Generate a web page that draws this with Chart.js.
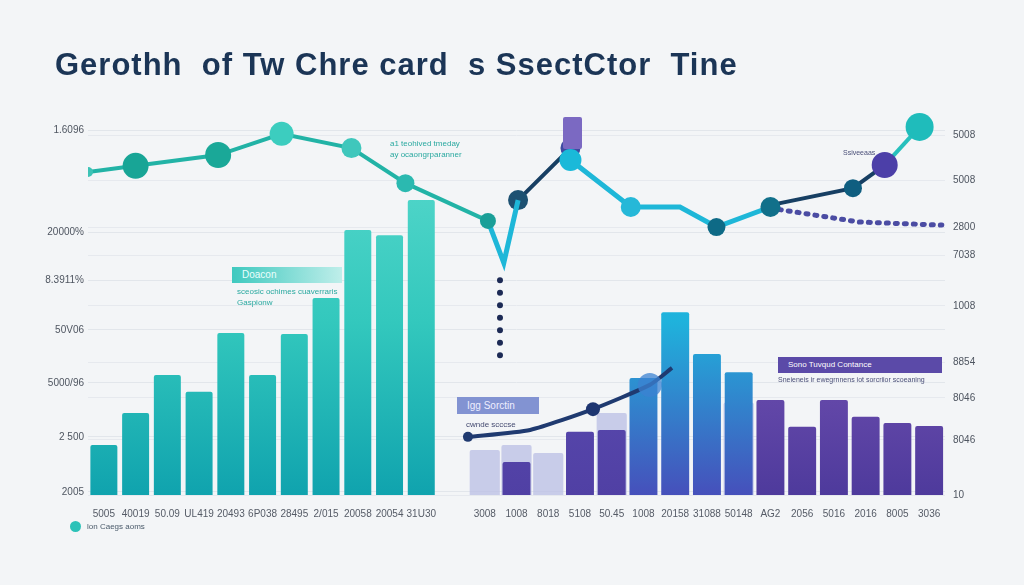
<!DOCTYPE html>
<html>
<head>
<meta charset="utf-8">
<script src="https://cdn.jsdelivr.net/npm/chart.js@4"></script>
<style>
  body { margin: 0; background: #f3f5f7; font-family: "Liberation Sans", Arial, sans-serif; }
  #wrap { position: relative; width: 1024px; height: 585px; overflow: hidden; }
  #title { position: absolute; left: 55px; top: 47px; font-size: 31px; font-weight: bold; color: #1b3556; letter-spacing: 1px; }
  .note { position: absolute; font-size: 8px; white-space: nowrap; }
  .box { position: absolute; font-size: 10px; white-space: nowrap; color: #fff; padding-left: 10px; box-sizing: border-box; }
</style>
</head>
<body>
<div id="wrap">
  <canvas id="chart" width="1024" height="585"></canvas>
  <div id="title">Gerothh&nbsp; of Tw Chre card&nbsp; s SsectCtor&nbsp; Tine</div>

  <div class="box" style="left:232px;top:267px;width:110px;height:16px;line-height:16px;background:linear-gradient(90deg,#3fc9bf,#bfeeea);color:#eafffd;">Doacon</div>
  <div class="note" style="left:237px;top:287px;color:#2aa9a0;">sceosic ochimes cuaverraris</div>
  <div class="note" style="left:237px;top:298px;color:#2aa9a0;">Gaspionw</div>
  <div class="note" style="left:390px;top:139px;color:#2aa9a0;">a1 teohived tmeday</div>
  <div class="note" style="left:390px;top:150px;color:#2aa9a0;">ay ocaongrparanner</div>

  <div class="box" style="left:457px;top:397px;width:82px;height:17px;line-height:17px;background:#8293d2;color:#eef;">Igg Sorctin</div>
  <div class="note" style="left:466px;top:420px;color:#444a70;">cwnde scccse</div>

  <div class="box" style="left:778px;top:357px;width:164px;height:16px;line-height:16px;background:#5b4aa8;font-size:8px;">Sono Tuvqud Contance</div>
  <div class="note" style="left:778px;top:376px;color:#4a4f78;font-size:7px;">Sneieneis ir ewegrnnens iot sorcriior scoeaning</div>
  <div class="note" style="left:843px;top:149px;color:#4a4f78;font-size:7px;">Ssiveeaas</div>

  <div class="box" style="left:563px;top:117px;width:19px;height:32px;background:#7b69c2;border-radius:2px;padding:0;"></div>

  <div style="position:absolute;left:70px;top:521px;width:11px;height:11px;border-radius:50%;background:#2cc2b8;"></div>
  <div class="note" style="left:87px;top:522px;color:#4a5a6a;">lon Caegs aoms</div>
</div>

<script>
const xLabels = [
  "5005", "40019", "50.09", "UL419", "20493", "6P038", "28495", "2/015", "20058", "20054", "31U30",
  "",
  "3008", "1008", "8018", "5108", "50.45", "1008", "20158", "31088", "50148", "AG2", "2056", "5016", "2016", "8005", "3036"
];

const leftTickValues = [0.8, 15.1, 29.1, 42.9, 55.8, 68.3, 94.8];
const leftTickLabels = ["2005", "2 500", "5000/96", "50V06", "8.3911%", "20000%", "1.6096"];
const rightTickValues = [0, 14.3, 25.2, 34.5, 49.1, 62.3, 69.6, 81.8, 93.5];
const rightTickLabels = ["10", "8046", "8046", "8854", "1008", "7038", "2800", "5008", "5008"];

const tealBars = [13, 21.3, 31.2, 26.8, 42.1, 31.2, 41.8, 51.2, 68.8, 67.5, 76.6,
  null, null, null, null, null, null, null, null, null, null, null, null, null, null, null, null];
const shadowBars = [null, null, null, null, null, null, null, null, null, null, null,
  null, 11.7, 13.0, 10.9, null, 21.3, null, null, null, 24.0, null, null, null, null, null, null];
const mainBars = [null, null, null, null, null, null, null, null, null, null, null,
  null, null, 8.6, null, 16.4, 16.9, 30.4, 47.5, 36.6, 31.9, 24.7, 17.7, 24.7, 20.3, 18.7, 17.9];

const tealLineX = [-0.5, 1.0, 3.6, 5.6, 7.8, 9.5, 12.1];
const tealLineY = [83.9, 85.5, 88.3, 93.8, 90.1, 81.0, 71.2];
const cyanLineX = [12.1, 12.6, 13.05, null, 14.7, 16.6, 18.15, 19.3, 21.0];
const cyanLineY = [71.2, 60.3, 76.6, null, 87.0, 74.8, 74.8, 69.6, 74.8];
const navyLineX = [13.05, 14.7, null, 21.0, 23.6, 24.6];
const navyLineY = [76.6, 90.1, null, 75.3, 79.7, 85.7];
const tailLineX = [24.6, 25.7];
const tailLineY = [85.7, 95.6];
const dotLineX = [21.0, 23.8, 26.4];
const dotLineY = [74.5, 70.9, 70.1];
const dropLineX = [12.48, 12.48];
const dropLineY = [55.8, 35.1];
const lowLineX = [11.47, 13.43, 15.41, 17.2, 17.9];
const lowLineY = [15.1, 16.9, 22.3, 28.6, 33.0];

function pts(xs, ys) {
  return xs.map((x, i) => ({ x: x === null ? NaN : x, y: ys[i] }));
}

function grad(chart, top, mid, bottom) {
  const area = chart.chartArea;
  if (!area) return bottom;
  const g = chart.ctx.createLinearGradient(0, area.top, 0, area.bottom);
  g.addColorStop(0, top);
  g.addColorStop(0.55, mid);
  g.addColorStop(1, bottom);
  return g;
}

function mainColor(ctx) {
  const i = ctx.dataIndex;
  const chart = ctx.chart;
  if (i >= 17 && i <= 20) return grad(chart, "#0fc4e2", "#1fb2dc", "#4650bb");
  if (i >= 21) return grad(chart, "#8a5fc0", "#7352b2", "#4e3a9c");
  return grad(chart, "#6a55b8", "#5d4cb2", "#5040a4");
}

new Chart(document.getElementById("chart"), {
  data: {
    labels: xLabels,
    datasets: [
      {
        type: "line", xAxisID: "x2", yAxisID: "y", order: 0,
        data: pts(tealLineX, tealLineY),
        borderColor: "#22b3a6", borderWidth: 4, tension: 0,
        pointRadius: [5, 13, 13, 12, 10, 9, 8],
        pointBackgroundColor: ["#3cc3b6", "#18a596", "#1aa898", "#3ccdbf", "#3fc7bc", "#2bb9b0", "#1a9f98"],
        pointBorderWidth: 0
      },
      {
        type: "line", xAxisID: "x2", yAxisID: "y", order: 0,
        data: pts(cyanLineX, cyanLineY),
        borderColor: "#1eb7d8", borderWidth: 5, tension: 0, spanGaps: false,
        pointRadius: [0, 0, 0, 0, 11, 10, 0, 9, 10],
        pointBackgroundColor: ["#1eb7d8", "#1eb7d8", "#1eb7d8", "#1eb7d8", "#1ab9d9", "#26b8d8", "#1eb7d8", "#0e6a86", "#11708a"],
        pointBorderWidth: 0
      },
      {
        type: "line", xAxisID: "x2", yAxisID: "y", order: 0,
        data: pts(navyLineX, navyLineY),
        borderColor: "#173f63", borderWidth: 4, tension: 0, spanGaps: false,
        pointRadius: [10, 10, 0, 0, 9, 13],
        pointBackgroundColor: ["#1d5172", "#3e4aa2", "#173f63", "#173f63", "#0f5e80", "#4c3fa8"],
        pointBorderWidth: 0
      },
      {
        type: "line", xAxisID: "x2", yAxisID: "y", order: 1,
        data: pts(tailLineX, tailLineY),
        borderColor: "#27c0bd", borderWidth: 4,
        pointRadius: [0, 14], pointBackgroundColor: "#1fbcbb", pointBorderWidth: 0
      },
      {
        type: "line", xAxisID: "x2", yAxisID: "y", order: 1,
        data: pts(dotLineX, dotLineY),
        borderColor: "#4b4ca3", borderWidth: 5, borderDash: [2, 7], borderCapStyle: "round",
        pointRadius: 0
      },
      {
        type: "line", xAxisID: "x2", yAxisID: "y", order: 0,
        data: pts(dropLineX, dropLineY),
        borderColor: "#1c2a55", borderWidth: 6, borderDash: [0, 12.5], borderCapStyle: "round",
        pointRadius: 0
      },
      {
        type: "line", xAxisID: "x2", yAxisID: "y", order: 0,
        data: pts(lowLineX, lowLineY),
        borderColor: "#1f3a70", borderWidth: 4, tension: 0.2,
        pointRadius: [5, 0, 7, 12, 0],
        pointBackgroundColor: ["#1f3a70", "#1f3a70", "#1d3570", "rgba(60,130,210,0.75)", "#2f6cc0"],
        pointBorderWidth: 0
      },
      {
        type: "bar", xAxisID: "x", yAxisID: "y", order: 3, grouped: false,
        data: shadowBars,
        backgroundColor: "rgba(186,190,228,0.75)",
        barPercentage: 0.95, categoryPercentage: 1, borderRadius: 2
      },
      {
        type: "bar", xAxisID: "x", yAxisID: "y", order: 2, grouped: false,
        data: tealBars,
        backgroundColor: (ctx) => grad(ctx.chart, "#5fdccf", "#33c8bd", "#10a3ae"),
        barPercentage: 0.85, categoryPercentage: 1, borderRadius: 2
      },
      {
        type: "bar", xAxisID: "x", yAxisID: "y", order: 2, grouped: false,
        data: mainBars,
        backgroundColor: mainColor,
        barPercentage: 0.88, categoryPercentage: 1, borderRadius: 2
      }
    ]
  },
  options: {
    responsive: false,
    animation: false,
    layout: { padding: { top: 110, bottom: 60, left: 0, right: 0 } },
    plugins: {
      legend: { display: false },
      tooltip: { enabled: false }
    },
    scales: {
      x: {
        type: "category", offset: true,
        grid: { display: false },
        border: { display: false },
        ticks: { color: "#555b66", font: { size: 10 }, maxRotation: 0, autoSkip: false, padding: 5 },
        afterFit: (axis) => { axis.height = 30; }
      },
      x2: {
        type: "linear", display: false, min: -0.5, max: 26.5
      },
      y: {
        position: "left", min: 0, max: 100,
        border: { display: false },
        grid: { color: "#e2e6eb", drawTicks: false },
        afterBuildTicks: (axis) => { axis.ticks = leftTickValues.map(v => ({ value: v })); },
        ticks: {
          color: "#4e5560", font: { size: 10 }, padding: 4,
          callback: (value, index) => leftTickLabels[index]
        },
        afterFit: (axis) => { axis.width = 88; }
      },
      y2: {
        position: "right", min: 0, max: 100,
        border: { display: false },
        grid: { color: "#e6e9ee", drawTicks: false, drawOnChartArea: true },
        afterBuildTicks: (axis) => { axis.ticks = rightTickValues.map(v => ({ value: v })); },
        ticks: {
          color: "#4e5560", font: { size: 10 }, padding: 8,
          callback: (value, index) => rightTickLabels[index]
        },
        afterFit: (axis) => { axis.width = 79; }
      }
    }
  }
});
</script>
</body>
</html>
